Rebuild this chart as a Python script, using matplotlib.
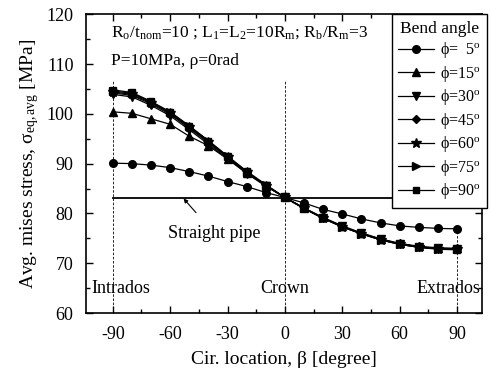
import matplotlib.pyplot as plt
import numpy as np
from matplotlib.ticker import MultipleLocator

plt.rcParams['font.family'] = ['Liberation Serif', 'DejaVu Serif']
plt.rcParams['mathtext.fontset'] = 'custom'
plt.rcParams['mathtext.rm'] = 'Liberation Serif'
plt.rcParams['mathtext.it'] = 'Liberation Serif:italic'
plt.rcParams['axes.unicode_minus'] = False

beta = [-90, -80, -70, -60, -50, -40, -30, -20, -10, 0,
        10, 20, 30, 40, 50, 60, 70, 80, 90]

phi5 = [90.1, 90.0, 89.7, 89.2, 88.4, 87.5, 86.4, 85.4, 84.2, 83.2,
        82.1, 80.8, 79.9, 78.9, 78.1, 77.5, 77.2, 77.0, 76.9]
phi15 = [100.4, 100.1, 99.0, 97.9, 95.5, 93.6, 90.9, 88.2, 85.5, 83.2,
         81.1, 79.2, 77.5, 76.1, 74.9, 74.0, 73.4, 73.1, 73.0]
phi30 = [103.9, 103.4, 101.7, 99.6, 96.8, 93.9, 91.0, 88.0, 85.5, 83.2,
         81.1, 79.1, 77.4, 76.0, 74.8, 73.9, 73.3, 73.0, 72.9]
phi45 = [104.2, 103.7, 102.0, 99.9, 97.1, 94.2, 91.2, 88.2, 85.6, 83.2,
         81.0, 79.1, 77.4, 76.0, 74.8, 73.9, 73.3, 72.9, 72.9]
phi60 = [104.4, 103.9, 102.2, 100.1, 97.3, 94.4, 91.3, 88.3, 85.6, 83.2,
         81.0, 79.0, 77.3, 75.9, 74.7, 73.8, 73.2, 72.9, 72.8]
phi75 = [104.6, 104.1, 102.4, 100.3, 97.5, 94.6, 91.5, 88.4, 85.7, 83.2,
         81.0, 79.0, 77.3, 75.9, 74.7, 73.8, 73.2, 72.9, 72.8]
phi90 = [104.8, 104.3, 102.5, 100.4, 97.6, 94.6, 91.5, 88.5, 85.8, 83.2,
         81.0, 79.0, 77.3, 75.9, 74.7, 73.8, 73.2, 72.8, 72.7]

straight_pipe = 83.0

series = [
    (phi5, 'o', 5.5, r'ϕ=  5$^\mathrm{o}$'),
    (phi15, '^', 6, r'ϕ=15$^\mathrm{o}$'),
    (phi30, 'v', 6, r'ϕ=30$^\mathrm{o}$'),
    (phi45, 'D', 4.5, r'ϕ=45$^\mathrm{o}$'),
    (phi60, '*', 7, r'ϕ=60$^\mathrm{o}$'),
    (phi75, '>', 6, r'ϕ=75$^\mathrm{o}$'),
    (phi90, 's', 5, r'ϕ=90$^\mathrm{o}$'),
]

fig = plt.figure(figsize=(4.9, 3.74), dpi=100)
ax = fig.add_axes([0.1755, 0.163, 0.808, 0.799])

# reference markers at intrados, crown and extrados
ax.plot([-90, -90], [60, 106.5], color='k', lw=0.6, ls=(0, (3, 2)))
ax.plot([0, 0], [60, 106.5], color='k', lw=0.6, ls=(0, (3, 2)))
ax.plot([90, 90], [60, 77], color='k', lw=0.6, ls=(0, (3, 2)))

ax.plot([-90, 90], [straight_pipe, straight_pipe], color='k', lw=1.3)

for vals, mk, ms, lab in series:
    ax.plot(beta, vals, color='k', lw=0.9, marker=mk, markersize=ms,
            markerfacecolor='k', markeredgecolor='k', label=lab)

ax.annotate('Straight pipe', xy=(-53, straight_pipe), xytext=(-37, 76.0),
            ha='center', va='center', fontsize=13,
            arrowprops=dict(arrowstyle='-|>', color='k', lw=0.8,
                            mutation_scale=6, shrinkA=9, shrinkB=0))

ax.text(-101, 65, 'Intrados', ha='left', va='center', fontsize=13)
ax.text(0, 65, 'Crown', ha='center', va='center', fontsize=13)
ax.text(102, 65, 'Extrados', ha='right', va='center', fontsize=13)

ax.text(-91, 116.3, r'R$_\mathrm{o}$/t$_\mathrm{nom}$=10 ; L$_\mathrm{1}$=L$_\mathrm{2}$=10R$_\mathrm{m}$; R$_\mathrm{b}$/R$_\mathrm{m}$=3',
        ha='left', va='center', fontsize=12.5)
ax.text(-91, 110.6, 'P=10MPa, ρ=0rad', ha='left', va='center', fontsize=12.5)

ax.set_xlim(-104, 103)
ax.set_ylim(60, 120)
ax.xaxis.set_major_locator(MultipleLocator(30))
ax.xaxis.set_minor_locator(MultipleLocator(15))
ax.yaxis.set_major_locator(MultipleLocator(10))
ax.yaxis.set_minor_locator(MultipleLocator(5))
ax.tick_params(which='both', direction='in', top=True, right=True,
               labelsize=13, width=1)
ax.tick_params(which='major', length=5, pad=9)
ax.tick_params(which='minor', length=3)
for s in ax.spines.values():
    s.set_linewidth(1.2)

ax.set_xlabel('Cir. location, β [degree]', fontsize=14, labelpad=6)
ax.set_ylabel(r'Avg. mises stress, σ$_\mathrm{eq,avg}$ [MPa]', fontsize=14,
              labelpad=4)

leg = ax.legend(title='Bend angle', loc='upper right',
                bbox_to_anchor=(1.013, 1.0), borderaxespad=0, fontsize=11.5,
                title_fontsize=12.5, frameon=True, fancybox=False,
                edgecolor='k', framealpha=1, handlelength=2.2,
                labelspacing=0.22, borderpad=0.4, handletextpad=0.4)
leg.get_frame().set_linewidth(1.0)

fig.savefig('out.png', dpi=100)
plt.close(fig)
